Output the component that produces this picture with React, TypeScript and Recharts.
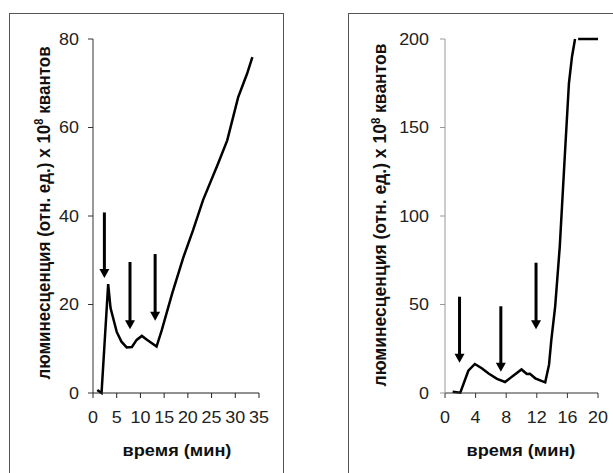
import React from 'react';
import { LineChart, Line, XAxis, YAxis, ReferenceLine } from 'recharts';

// left panel: 0–35 min
const leftTime = [0.9, 1.8, 3.2, 3.7, 5, 6, 7.1, 8.2, 9.2, 10.3, 11.3, 13.4, 14.5, 16.7, 19, 21.1, 23.2, 26.4, 28.3, 30.6, 32.5, 33.6];
const leftLum = [0.7, 0, 24.6, 19.2, 13.8, 11.6, 10.3, 10.4, 12, 12.9, 12.1, 10.5, 14.2, 22.5, 30.5, 36.8, 43.6, 51.9, 57.1, 66.8, 72.2, 75.9];
const leftXTicks = [0, 5, 10, 15, 20, 25, 30, 35];
const leftYTicks = [0, 20, 40, 60, 80];
const leftArrowX = [2.4, 7.8, 13.1];
const leftArrowTop = [40.8, 29.6, 31.4];
const leftArrowTip = [26, 14.4, 16.3];

// right panel: 0–20 min
const rightTime = [1.0, 2.0, 3.05, 3.9, 4.8, 5.7, 6.8, 7.85, 9.0, 10, 10.7, 11.1, 11.8, 12.6, 13.1, 13.6, 13.9, 14.4, 15, 15.7, 16.2, 16.6, 17.0, 17.2, 17.4, 20];
const rightLum = [0.7, 0.2, 12.6, 16.4, 14, 11, 8, 6.2, 10, 13.3, 10.7, 10.8, 8.3, 6.8, 6, 16, 30, 48.8, 82.6, 137, 175, 190, 200, null, 200, 200];
const rightXTicks = [0, 4, 8, 12, 16, 20];
const rightYTicks = [0, 50, 100, 150, 200];
const rightArrowX = [1.9, 7.3, 11.9];
const rightArrowTop = [54.4, 49, 73.6];
const rightArrowTip = [17.1, 12, 36];

const FONT = '"Liberation Sans", Arial, sans-serif';

const leftData = leftTime.map((t, i) => ({ t, v: leftLum[i] }));
const rightData = rightTime.map((t, i) => ({ t, v: rightLum[i] }));

const Arrow = (props: any) => {
  const { x1, y1, x2, y2 } = props;
  const head = 9;
  return (
    <g>
      <line x1={x1} y1={y1} x2={x2} y2={y2 - head + 1} stroke="#000" strokeWidth={3} />
      <polygon points={`${x2 - 5},${y2 - head} ${x2 + 5},${y2 - head} ${x2},${y2}`} fill="#000" />
    </g>
  );
};

// the original picture is a bit stretched sideways, so the digits are widened
const makeTick = (dy: string) => (props: any) => {
  const { x, y, payload, textAnchor } = props;
  return (
    <g transform={`translate(${x},${y}) scale(1.12,1)`}>
      <text x={0} y={0} dy={dy} textAnchor={textAnchor} fontSize={16} fill="#222" fontFamily={FONT}>
        {payload.value}
      </text>
    </g>
  );
};
const xTick = makeTick('0.71em');
const yTick = makeTick('0.355em');

const YLabel = ({ cx, cy, size }: { cx: number; cy: number; size: number }) => (
  <div
    style={{
      position: 'absolute',
      left: cx,
      top: cy,
      transform: 'translate(-50%, -50%) rotate(-90deg) scale(1, 1.1)',
      whiteSpace: 'nowrap',
      fontFamily: FONT,
      fontWeight: 'bold',
      fontSize: size,
      lineHeight: 1,
      color: '#111',
    }}
  >
    люминесценция (отн. ед.) x 10<sup style={{ fontSize: '0.65em', verticalAlign: '0.55em' }}>8</sup> квантов
  </div>
);

const XLabel = ({ cx, cy }: { cx: number; cy: number }) => (
  <div
    style={{
      position: 'absolute',
      left: cx,
      top: cy,
      transform: 'translate(-50%, -50%) scale(1.1, 1)',
      whiteSpace: 'nowrap',
      fontFamily: FONT,
      fontWeight: 'bold',
      fontSize: 16.5,
      lineHeight: 1,
      color: '#111',
    }}
  >
    время (мин)
  </div>
);

export default function App() {
  return (
    <div style={{ position: 'absolute', left: 0, top: 0, width: 613, height: 473, overflow: 'hidden', background: '#fff' }}>
      <div style={{ position: 'absolute', left: 9, top: 13, width: 275, height: 480, border: '1px solid #555', boxSizing: 'border-box' }} />
      <div style={{ position: 'absolute', left: 348, top: 13, width: 300, height: 480, border: '1px solid #555', boxSizing: 'border-box' }} />

      <div style={{ position: 'absolute', left: 0, top: 0 }}>
        <LineChart width={300} height={473} data={leftData} margin={{ top: 39, right: 41, bottom: 50, left: 43 }}>
          <XAxis
            dataKey="t"
            type="number"
            domain={[0, 35]}
            ticks={leftXTicks}
            interval={0}
            height={30}
            tickSize={5}
            tickMargin={14}
            stroke="#222"
            tick={xTick}
          />
          <YAxis
            type="number"
            domain={[0, 80]}
            ticks={leftYTicks}
            width={50}
            tickSize={5}
            tickMargin={9}
            stroke="#333"
            tick={yTick}
          />
          <Line type="linear" dataKey="v" stroke="#000" strokeWidth={2.5} dot={false} isAnimationActive={false} />
          {leftArrowX.map((x, i) => (
            <ReferenceLine
              key={i}
              segment={[{ x, y: leftArrowTop[i] }, { x, y: leftArrowTip[i] }]}
              shape={Arrow}
            />
          ))}
        </LineChart>
      </div>

      <div style={{ position: 'absolute', left: 340, top: 0 }}>
        <LineChart width={273} height={473} data={rightData} margin={{ top: 39, right: 15, bottom: 50, left: 55 }}>
          <XAxis
            dataKey="t"
            type="number"
            domain={[0, 20]}
            ticks={rightXTicks}
            interval={0}
            height={30}
            tickSize={5}
            tickMargin={14}
            stroke="#333"
            tick={xTick}
          />
          <YAxis
            type="number"
            domain={[0, 200]}
            ticks={rightYTicks}
            width={50}
            tickSize={5}
            tickMargin={11}
            stroke="#999"
            tick={yTick}
          />
          <Line type="linear" dataKey="v" stroke="#000" strokeWidth={2.5} dot={false} isAnimationActive={false} />
          {rightArrowX.map((x, i) => (
            <ReferenceLine
              key={i}
              segment={[{ x, y: rightArrowTop[i] }, { x, y: rightArrowTip[i] }]}
              shape={Arrow}
            />
          ))}
        </LineChart>
      </div>

      <YLabel cx={43} cy={213} size={17} />
      <YLabel cx={380} cy={215} size={17.5} />
      <XLabel cx={177} cy={450} />
      <XLabel cx={521} cy={450} />
    </div>
  );
}
